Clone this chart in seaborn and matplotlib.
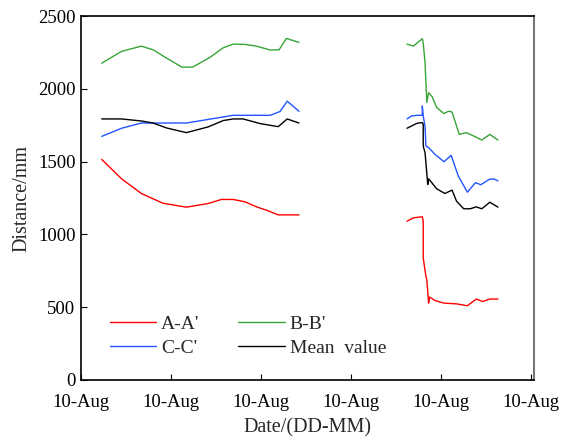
import matplotlib
matplotlib.use("Agg")
import matplotlib.pyplot as plt
import seaborn as sns
import pandas as pd
import numpy as np

# x positions in tick units (ticks at 0..5, all labelled "10-Aug")
tick_pos = [0, 1, 2, 3, 4, 5]
tick_labels = ["10-Aug"] * 6
y_ticks = [0, 500, 1000, 1500, 2000, 2500]

series_names = ["A-A'", "B-B'", "C-C'", "Mean  value"]
colors = ["#ff0000", "#36a536", "#2255ff", "#000000"]

# ---- segment 1 ----
aa1_x = [0.23, 0.45, 0.67, 0.91, 1.17, 1.41, 1.56, 1.69, 1.82, 1.95, 2.07, 2.19, 2.42]
aa1_y = [1515, 1382, 1281, 1214, 1187, 1212, 1240, 1240, 1224, 1189, 1164, 1134, 1134]
bb1_x = [0.23, 0.45, 0.67, 0.80, 0.95, 1.12, 1.24, 1.43, 1.58, 1.69, 1.82, 1.95, 2.10, 2.20, 2.28, 2.42]
bb1_y = [2176, 2257, 2293, 2268, 2211, 2149, 2149, 2215, 2282, 2307, 2305, 2293, 2266, 2268, 2346, 2319]
cc1_x = [0.23, 0.45, 0.67, 1.17, 1.69, 2.10, 2.21, 2.29, 2.42]
cc1_y = [1673, 1729, 1765, 1765, 1818, 1818, 1844, 1915, 1846]
mv1_x = [0.23, 0.45, 0.67, 0.80, 0.95, 1.17, 1.41, 1.58, 1.69, 1.80, 1.99, 2.19, 2.29, 2.42]
mv1_y = [1793, 1793, 1779, 1765, 1731, 1699, 1738, 1782, 1793, 1793, 1761, 1740, 1793, 1765]

# ---- segment 2 ----
aa2_x = [3.62, 3.69, 3.79, 3.80, 3.80, 3.83, 3.84, 3.86, 3.87, 3.93, 4.03, 4.17, 4.29, 4.39, 4.46, 4.54, 4.63]
aa2_y = [1090, 1114, 1121, 1090, 838, 711, 689, 528, 570, 546, 528, 523, 510, 556, 539, 556, 556]
bb2_x = [3.62, 3.69, 3.79, 3.80, 3.82, 3.83, 3.84, 3.86, 3.90, 3.95, 4.03, 4.08, 4.12, 4.20, 4.28, 4.36, 4.45, 4.54, 4.63]
bb2_y = [2307, 2293, 2344, 2314, 2181, 2043, 1906, 1974, 1944, 1871, 1830, 1846, 1841, 1687, 1699, 1676, 1648, 1687, 1648]
cc2_x = [3.62, 3.67, 3.73, 3.79, 3.79, 3.80, 3.82, 3.83, 3.86, 3.93, 4.03, 4.11, 4.19, 4.29, 4.38, 4.44, 4.53, 4.58, 4.63]
cc2_y = [1793, 1813, 1818, 1818, 1882, 1813, 1744, 1607, 1596, 1550, 1499, 1543, 1400, 1290, 1355, 1341, 1377, 1382, 1368]
mv2_x = [3.62, 3.73, 3.79, 3.80, 3.80, 3.82, 3.83, 3.85, 3.86, 3.95, 4.04, 4.12, 4.17, 4.25, 4.32, 4.39, 4.45, 4.54, 4.63]
mv2_y = [1729, 1763, 1768, 1756, 1607, 1561, 1492, 1343, 1382, 1313, 1281, 1304, 1228, 1176, 1176, 1189, 1176, 1221, 1187]

rows = []
def add(name, seg, xs, ys):
    for i, (x, y) in enumerate(zip(xs, ys)):
        rows.append({"series": name, "segment": seg, "order": i, "x": x, "y": y})

add(series_names[0], 1, aa1_x, aa1_y)
add(series_names[1], 1, bb1_x, bb1_y)
add(series_names[2], 1, cc1_x, cc1_y)
add(series_names[3], 1, mv1_x, mv1_y)
add(series_names[0], 2, aa2_x, aa2_y)
add(series_names[1], 2, bb2_x, bb2_y)
add(series_names[2], 2, cc2_x, cc2_y)
add(series_names[3], 2, mv2_x, mv2_y)
df = pd.DataFrame(rows)

sns.set_theme(style="white")
plt.rcParams["font.family"] = ["Liberation Serif", "DejaVu Serif"]

fig = plt.figure(figsize=(5.7, 4.41), dpi=100)
ax = fig.add_axes([81 / 570, 61 / 441, 453 / 570, 364 / 441])

sns.lineplot(data=df, x="x", y="y", hue="series", units="segment", estimator=None,
             sort=False, palette=dict(zip(series_names, colors)), hue_order=series_names,
             linewidth=1.0, ax=ax, legend=True)

ax.set_xlim(0, 5.03)
ax.set_ylim(0, 2500)
ax.set_xticks(tick_pos)
ax.set_xticklabels(tick_labels)
ax.set_yticks(y_ticks)
ax.tick_params(direction="in", length=4, width=0.8, labelsize=13.5, colors="black",
               bottom=True, left=True)
ax.tick_params(axis="x", pad=10)
ax.tick_params(axis="y", pad=4)
ax.set_xlabel("Date/(DD-MM)", fontsize=14.5, labelpad=5)
ax.set_ylabel("Distance/mm", fontsize=14.5, labelpad=5)

for s in ["left", "bottom", "top"]:
    ax.spines[s].set_color("black")
    ax.spines[s].set_linewidth(1.2)
ax.spines["right"].set_color("#777777")
ax.spines["right"].set_linewidth(1.5)

# reorder so that the legend reads row-wise: A, B / C, Mean
handles, labels = ax.get_legend_handles_labels()
hmap = dict(zip(labels, handles))
order = [series_names[0], series_names[2], series_names[1], series_names[3]]
leg = ax.legend([hmap[k] for k in order], order, loc="lower left",
                bbox_to_anchor=(0.033, 0.027), ncol=2, frameon=False,
                fontsize=14, handlelength=2.4, handletextpad=0.25, columnspacing=2.0,
                labelspacing=0.3, borderpad=0.2)
for line in leg.get_lines():
    line.set_linewidth(1.0)

fig.savefig("out.png", dpi=100)
